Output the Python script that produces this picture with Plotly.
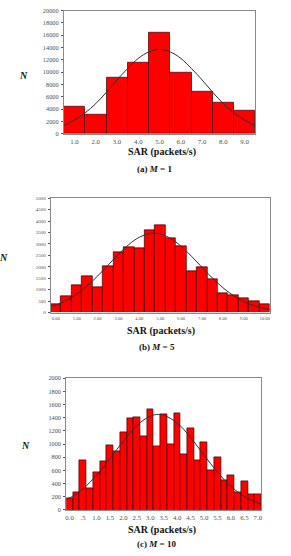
import plotly.graph_objects as go

W, H = 291, 556

# ---------------- data ----------------
# (a) M = 1
a_x = [1, 2, 3, 4, 5, 6, 7, 8, 9]
a_n = [4500, 3050, 9100, 11550, 16400, 9900, 6900, 5100, 3800]
a_curve_x = [0.5, 1.0, 1.5, 2.0, 2.5, 3.0, 3.5, 4.0, 4.5, 5.0, 5.5, 6.0, 6.5, 7.0, 7.5, 8.0, 8.5, 9.0, 9.5]
a_curve_y = [1350, 2230, 3400, 4900, 6750, 8750, 10600, 12250, 13300, 13700, 13300, 12250, 10600, 8750, 6750, 4900, 3400, 2230, 1300]
a_xtick_vals = [1, 2, 3, 4, 5, 6, 7, 8, 9]
a_xtick_text = ["1.0", "2.0", "3.0", "4.0", "5.0", "6.0", "7.0", "8.0", "9.0"]
a_ytick_vals = [0, 2000, 4000, 6000, 8000, 10000, 12000, 14000, 16000, 18000, 20000]

# (b) M = 5
b_x = [0, 0.5, 1, 1.5, 2, 2.5, 3, 3.5, 4, 4.5, 5, 5.5, 6, 6.5, 7, 7.5, 8, 8.5, 9, 9.5, 10]
b_n = [350, 700, 1200, 1600, 1100, 2040, 2650, 2860, 2830, 3620, 3800, 3270, 2900, 1810, 1970, 1450, 860, 780, 610, 490, 350]
b_curve_x = [-0.25, 0, 0.5, 1.0, 1.5, 2.0, 2.5, 3.0, 3.5, 4.0, 4.5, 4.7, 5.0, 5.5, 6.0, 6.5, 7.0, 7.5, 8.0, 8.5, 9.0, 9.5, 10.0, 10.25]
b_curve_y = [270, 331, 531, 809, 1168, 1598, 2074, 2552, 2977, 3294, 3455, 3470, 3437, 3241, 2899, 2458, 1977, 1507, 1089, 747, 485, 299, 175, 131]
b_xtick_vals = [0, 1, 2, 3, 4, 5, 6, 7, 8, 9, 10]
b_xtick_text = ["0.00", "1.00", "2.00", "3.00", "4.00", "5.00", "6.00", "7.00", "8.00", "9.00", "10.00"]
b_ytick_vals = [0, 500, 1000, 1500, 2000, 2500, 3000, 3500, 4000, 4500, 5000]

# (c) M = 10
c_x = [0, 0.25, 0.5, 0.75, 1, 1.25, 1.5, 1.75, 2, 2.25, 2.5, 2.75, 3, 3.25, 3.5, 3.75,
       4, 4.25, 4.5, 4.75, 5, 5.25, 5.5, 5.75, 6, 6.25, 6.5, 6.75, 7]
c_n = [170, 265, 755, 335, 575, 745, 985, 890, 1175, 1390, 1405, 1125, 1525, 960, 1450, 1000,
       1475, 845, 1240, 755, 1025, 600, 795, 455, 530, 270, 440, 230, 230]
c_curve_x = [-0.125, 0, 0.5, 1.0, 1.5, 2.0, 2.5, 3.0, 3.3, 3.5, 4.0, 4.5, 5.0, 5.5, 6.0, 6.5, 7.0, 7.125]
c_curve_y = [155, 179, 321, 524, 778, 1048, 1282, 1425, 1450, 1439, 1320, 1099, 832, 572, 357, 202, 104, 87]
c_xtick_vals = [0, 0.5, 1, 1.5, 2, 2.5, 3, 3.5, 4, 4.5, 5, 5.5, 6, 6.5, 7]
c_xtick_text = ["0.0", ".5", "1.0", "1.5", "2.0", "2.5", "3.0", "3.5", "4.0", "4.5", "5.0", "5.5", "6.0", "6.5", "7.0"]
c_ytick_vals = [0, 200, 400, 600, 800, 1000, 1200, 1400, 1600, 1800, 2000]

x_title = "SAR (packets/s)"
y_title = "N"
captions = ["(a) <i>M</i> = 1", "(b) <i>M</i> = 5", "(c) <i>M</i> = 10"]

# ---------------- layout helpers ----------------
def xd(l, r):
    return [l / W, r / W]

def yd(t, b):
    return [1 - b / H, 1 - t / H]

SERIF = "Liberation Serif"
BAR_FILL = "#ff0000"
BAR_LINE = "#3a0000"
CURVE = "#303030"
TICK_COL = "#505050"

fig = go.Figure()

panels = [
    dict(x=a_x, n=a_n, cx=a_curve_x, cy=a_curve_y, xr=[0.5, 9.5], yr=[0, 20000],
         xtv=a_xtick_vals, xtt=a_xtick_text, ytv=a_ytick_vals,
         dom_x=xd(63.3, 256), dom_y=yd(6.7, 131.5), xfs=6.8, yfs=6.3),
    dict(x=b_x, n=b_n, cx=b_curve_x, cy=b_curve_y, xr=[-0.25, 10.25], yr=[0, 5000],
         xtv=b_xtick_vals, xtt=b_xtick_text, ytv=b_ytick_vals,
         dom_x=xd(50, 270.7), dom_y=yd(196.7, 312.5), xfs=4.6, yfs=5),
    dict(x=c_x, n=c_n, cx=c_curve_x, cy=c_curve_y, xr=[-0.125, 7.125], yr=[0, 2000],
         xtv=c_xtick_vals, xtt=c_xtick_text, ytv=c_ytick_vals,
         dom_x=xd(65.7, 262), dom_y=yd(379, 512.3), xfs=6.8, yfs=6.3),
]

for i, p in enumerate(panels):
    sfx = "" if i == 0 else str(i + 1)
    fig.add_trace(go.Bar(x=p["x"], y=p["n"], marker=dict(color=BAR_FILL, line=dict(color=BAR_LINE, width=0.7)),
                         xaxis="x" + sfx, yaxis="y" + sfx, showlegend=False))
    fig.add_trace(go.Scatter(x=p["cx"], y=p["cy"], mode="lines", line=dict(color=CURVE, width=1, shape="spline"),
                             xaxis="x" + sfx, yaxis="y" + sfx, showlegend=False))
    fig.layout["xaxis" + sfx] = dict(
        domain=p["dom_x"], range=p["xr"], anchor="y" + sfx, tickmode="array",
        tickvals=p["xtv"], ticktext=p["xtt"], showgrid=False, zeroline=False,
        showline=True, linecolor="#8a8a8a", linewidth=1, mirror=True,
        ticks="", tickfont=dict(family=SERIF, size=p["xfs"], color=TICK_COL), ticklabelstandoff=1,
    )
    fig.layout["yaxis" + sfx] = dict(
        domain=p["dom_y"], range=p["yr"], anchor="x" + sfx, tickmode="array",
        tickvals=p["ytv"], ticktext=[str(v) for v in p["ytv"]], showgrid=False, zeroline=False,
        showline=True, linecolor="#8a8a8a", linewidth=1, mirror=True,
        ticks="outside", ticklen=2, tickcolor="#555555", tickwidth=0.6,
        tickfont=dict(family=SERIF, size=p["yfs"], color=TICK_COL), ticklabelstandoff=1,
    )

# titles / captions as annotations (pixel positions)
def ann(text, px, py, size, bold=True, italic=False):
    t = text
    if italic:
        t = "<i>" + t + "</i>"
    if bold:
        t = "<b>" + t + "</b>"
    fig.add_annotation(text=t, x=px / W, y=1 - py / H, xref="paper", yref="paper",
                       showarrow=False, xanchor="center", yanchor="middle",
                       font=dict(family=SERIF, size=size, color="#111111"))

ann(x_title, 162, 150, 10)
ann(captions[0], 155, 167, 9)
ann(y_title, 22.7, 72.5, 10, italic=True)

ann(x_title, 161, 331, 10)
ann(captions[1], 157, 347, 9)
ann(y_title, 2.5, 257, 10, italic=True)

ann(x_title, 162, 532.5, 10)
ann(captions[2], 157, 547, 9)
ann(y_title, 25, 447, 10, italic=True)

fig.update_layout(width=W, height=H, margin=dict(l=0, r=0, t=0, b=0),
                  paper_bgcolor="white", plot_bgcolor="white", bargap=0)

fig.write_html("out.html")
